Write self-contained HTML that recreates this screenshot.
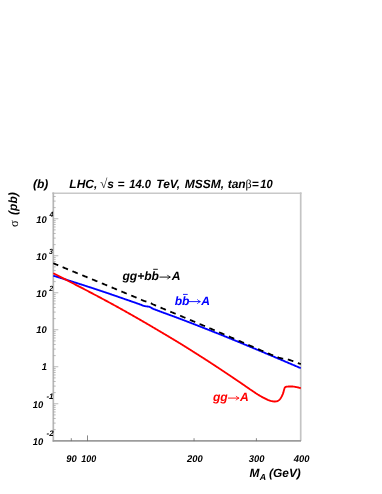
<!DOCTYPE html><html><head><meta charset="utf-8"><title>chart</title>
<style>html,body{margin:0;padding:0;background:#fff}svg{display:block;will-change:transform}text{font-family:"Liberation Sans",sans-serif;font-weight:bold;font-style:italic;text-rendering:geometricPrecision}.sym{font-family:"Liberation Serif",serif;font-weight:normal;font-style:normal}</style></head><body>
<svg width="382" height="494" viewBox="0 0 382 494">
<rect width="382" height="494" fill="#fff"/>
<g fill="none" stroke-linecap="butt">
<path d="M52.3 193.2H301.5" stroke="#c8c8c8" stroke-width="1.6"/>
<path d="M300.7 192.4V441.0" stroke="#c4c4c4" stroke-width="1.7"/>
<path d="M53.3 192.4V441.7" stroke="#b6b6b6" stroke-width="1.7"/>
<path d="M52.7 440.8H301.0" stroke="#9c9c9c" stroke-width="1.8"/>
<path d="M53.2 429.61H55.7 M53.2 423.10H55.7 M53.2 418.47H55.7 M53.2 414.89H55.7 M53.2 411.96H55.7 M53.2 409.48H55.7 M53.2 407.34H55.7 M53.2 405.44H55.7 M53.2 403.75H58.3 M53.2 392.61H55.7 M53.2 386.10H55.7 M53.2 381.47H55.7 M53.2 377.89H55.7 M53.2 374.96H55.7 M53.2 372.48H55.7 M53.2 370.34H55.7 M53.2 368.44H55.7 M53.2 366.75H58.3 M53.2 355.61H55.7 M53.2 349.10H55.7 M53.2 344.47H55.7 M53.2 340.89H55.7 M53.2 337.96H55.7 M53.2 335.48H55.7 M53.2 333.34H55.7 M53.2 331.44H55.7 M53.2 329.75H58.3 M53.2 318.61H55.7 M53.2 312.10H55.7 M53.2 307.47H55.7 M53.2 303.89H55.7 M53.2 300.96H55.7 M53.2 298.48H55.7 M53.2 296.34H55.7 M53.2 294.44H55.7 M53.2 292.75H58.3 M53.2 281.61H55.7 M53.2 275.10H55.7 M53.2 270.47H55.7 M53.2 266.89H55.7 M53.2 263.96H55.7 M53.2 261.48H55.7 M53.2 259.34H55.7 M53.2 257.44H55.7 M53.2 255.75H58.3 M53.2 244.61H55.7 M53.2 238.10H55.7 M53.2 233.47H55.7 M53.2 229.89H55.7 M53.2 226.96H55.7 M53.2 224.48H55.7 M53.2 222.34H55.7 M53.2 220.44H55.7 M53.2 218.75H58.3 M53.2 207.61H55.7 M53.2 201.10H55.7 M53.2 196.47H55.7" stroke="#a8a8a8" stroke-width="0.8"/>
<path d="M71.30 441.1v-2.9 M87.50 441.1v-5.7 M194.06 441.1v-2.9 M256.40 441.1v-2.9" stroke="#6a6a6a" stroke-width="0.8"/>
</g>
<g fill="none" stroke-linejoin="round">
<path d="M53.30 275.70 L53.80 275.85 L54.30 276.01 L54.80 276.16 L55.30 276.32 L55.80 276.47 L56.30 276.62 L56.80 276.78 L57.30 276.93 L57.80 277.09 L58.30 277.24 L58.80 277.40 L59.30 277.55 L59.80 277.71 L60.30 277.86 L60.80 278.02 L61.30 278.17 L61.80 278.33 L62.30 278.48 L62.80 278.64 L63.30 278.80 L63.80 278.95 L64.30 279.11 L64.80 279.26 L65.30 279.42 L65.80 279.58 L66.30 279.74 L66.80 279.89 L67.30 280.05 L67.80 280.21 L68.30 280.37 L68.80 280.53 L69.30 280.68 L69.80 280.84 L70.30 281.00 L70.80 281.16 L71.30 281.32 L71.80 281.48 L72.30 281.63 L72.80 281.79 L73.30 281.95 L73.80 282.11 L74.30 282.27 L74.80 282.43 L75.30 282.59 L75.80 282.75 L76.30 282.90 L76.80 283.06 L77.30 283.22 L77.80 283.38 L78.30 283.54 L78.80 283.70 L79.30 283.86 L79.80 284.02 L80.30 284.18 L80.80 284.34 L81.30 284.50 L81.80 284.66 L82.30 284.82 L82.80 284.98 L83.30 285.14 L83.80 285.30 L84.30 285.47 L84.80 285.63 L85.30 285.79 L85.80 285.95 L86.30 286.11 L86.80 286.27 L87.30 286.43 L87.80 286.60 L88.30 286.76 L88.80 286.92 L89.30 287.08 L89.80 287.25 L90.30 287.41 L90.80 287.57 L91.30 287.73 L91.80 287.90 L92.30 288.06 L92.80 288.22 L93.30 288.39 L93.80 288.55 L94.30 288.72 L94.80 288.88 L95.30 289.04 L95.80 289.21 L96.30 289.37 L96.80 289.54 L97.30 289.70 L97.80 289.87 L98.30 290.04 L98.80 290.20 L99.30 290.37 L99.80 290.53 L100.30 290.70 L100.80 290.87 L101.30 291.03 L101.80 291.20 L102.30 291.37 L102.80 291.54 L103.30 291.70 L103.80 291.87 L104.30 292.04 L104.80 292.21 L105.30 292.38 L105.80 292.55 L106.30 292.72 L106.80 292.89 L107.30 293.06 L107.80 293.23 L108.30 293.40 L108.80 293.57 L109.30 293.74 L109.80 293.91 L110.30 294.08 L110.80 294.25 L111.30 294.42 L111.80 294.59 L112.30 294.77 L112.80 294.94 L113.30 295.11 L113.80 295.28 L114.30 295.45 L114.80 295.63 L115.30 295.80 L115.80 295.97 L116.30 296.14 L116.80 296.32 L117.30 296.49 L117.80 296.66 L118.30 296.84 L118.80 297.01 L119.30 297.18 L119.80 297.36 L120.30 297.53 L120.80 297.70 L121.30 297.88 L121.80 298.05 L122.30 298.22 L122.80 298.40 L123.30 298.57 L123.80 298.75 L124.30 298.92 L124.80 299.09 L125.30 299.27 L125.80 299.44 L126.30 299.61 L126.80 299.79 L127.30 299.96 L127.80 300.14 L128.30 300.31 L128.80 300.48 L129.30 300.66 L129.80 300.83 L130.30 301.00 L130.80 301.18 L131.30 301.35 L131.80 301.52 L132.30 301.70 L132.80 301.87 L133.30 302.04 L133.80 302.21 L134.30 302.39 L134.80 302.56 L135.30 302.74 L135.80 302.91 L136.30 303.08 L136.80 303.26 L137.30 303.44 L137.80 303.61 L138.30 303.79 L138.80 303.97 L139.30 304.15 L139.80 304.33 L140.30 304.51 L140.80 304.71 L141.30 304.91 L141.80 305.12 L142.30 305.33 L142.80 305.53 L143.30 305.71 L143.80 305.87 L144.30 306.00 L144.80 306.11 L145.30 306.21 L145.80 306.30 L146.30 306.37 L146.80 306.43 L147.30 306.48 L147.80 306.52 L148.30 306.56 L148.80 306.62 L149.30 306.73 L149.80 306.94 L150.30 307.22 L150.80 307.50 L151.30 307.79 L151.80 308.11 L152.30 308.43 L152.80 308.70 L153.30 308.92 L153.80 309.11 L154.30 309.29 L154.80 309.48 L155.30 309.66 L155.80 309.85 L156.30 310.04 L156.80 310.23 L157.30 310.42 L157.80 310.61 L158.30 310.79 L158.80 310.98 L159.30 311.17 L159.80 311.35 L160.30 311.54 L160.80 311.72 L161.30 311.91 L161.80 312.09 L162.30 312.28 L162.80 312.46 L163.30 312.65 L163.80 312.83 L164.30 313.01 L164.80 313.20 L165.30 313.38 L165.80 313.56 L166.30 313.74 L166.80 313.93 L167.30 314.11 L167.80 314.29 L168.30 314.48 L168.80 314.66 L169.30 314.84 L169.80 315.02 L170.30 315.21 L170.80 315.39 L171.30 315.57 L171.80 315.76 L172.30 315.94 L172.80 316.12 L173.30 316.31 L173.80 316.49 L174.30 316.68 L174.80 316.86 L175.30 317.04 L175.80 317.23 L176.30 317.42 L176.80 317.60 L177.30 317.79 L177.80 317.97 L178.30 318.16 L178.80 318.35 L179.30 318.54 L179.80 318.72 L180.30 318.91 L180.80 319.10 L181.30 319.29 L181.80 319.48 L182.30 319.67 L182.80 319.86 L183.30 320.05 L183.80 320.24 L184.30 320.43 L184.80 320.62 L185.30 320.81 L185.80 321.01 L186.30 321.20 L186.80 321.39 L187.30 321.58 L187.80 321.77 L188.30 321.96 L188.80 322.16 L189.30 322.35 L189.80 322.54 L190.30 322.73 L190.80 322.93 L191.30 323.12 L191.80 323.31 L192.30 323.51 L192.80 323.70 L193.30 323.89 L193.80 324.09 L194.30 324.28 L194.80 324.48 L195.30 324.67 L195.80 324.86 L196.30 325.06 L196.80 325.25 L197.30 325.45 L197.80 325.64 L198.30 325.84 L198.80 326.03 L199.30 326.23 L199.80 326.42 L200.30 326.62 L200.80 326.81 L201.30 327.01 L201.80 327.20 L202.30 327.40 L202.80 327.59 L203.30 327.79 L203.80 327.99 L204.30 328.18 L204.80 328.38 L205.30 328.57 L205.80 328.77 L206.30 328.97 L206.80 329.16 L207.30 329.36 L207.80 329.55 L208.30 329.75 L208.80 329.95 L209.30 330.14 L209.80 330.34 L210.30 330.54 L210.80 330.74 L211.30 330.93 L211.80 331.13 L212.30 331.33 L212.80 331.53 L213.30 331.72 L213.80 331.92 L214.30 332.12 L214.80 332.32 L215.30 332.52 L215.80 332.72 L216.30 332.91 L216.80 333.11 L217.30 333.31 L217.80 333.51 L218.30 333.71 L218.80 333.91 L219.30 334.11 L219.80 334.31 L220.30 334.51 L220.80 334.71 L221.30 334.91 L221.80 335.11 L222.30 335.31 L222.80 335.51 L223.30 335.71 L223.80 335.92 L224.30 336.12 L224.80 336.32 L225.30 336.52 L225.80 336.72 L226.30 336.93 L226.80 337.13 L227.30 337.33 L227.80 337.53 L228.30 337.74 L228.80 337.94 L229.30 338.15 L229.80 338.35 L230.30 338.55 L230.80 338.76 L231.30 338.96 L231.80 339.17 L232.30 339.37 L232.80 339.58 L233.30 339.78 L233.80 339.99 L234.30 340.19 L234.80 340.40 L235.30 340.60 L235.80 340.81 L236.30 341.02 L236.80 341.22 L237.30 341.43 L237.80 341.64 L238.30 341.84 L238.80 342.05 L239.30 342.26 L239.80 342.46 L240.30 342.67 L240.80 342.88 L241.30 343.08 L241.80 343.29 L242.30 343.50 L242.80 343.71 L243.30 343.91 L243.80 344.12 L244.30 344.33 L244.80 344.54 L245.30 344.75 L245.80 344.95 L246.30 345.16 L246.80 345.37 L247.30 345.58 L247.80 345.78 L248.30 345.99 L248.80 346.20 L249.30 346.41 L249.80 346.62 L250.30 346.82 L250.80 347.03 L251.30 347.24 L251.80 347.45 L252.30 347.66 L252.80 347.87 L253.30 348.07 L253.80 348.28 L254.30 348.49 L254.80 348.70 L255.30 348.91 L255.80 349.12 L256.30 349.33 L256.80 349.54 L257.30 349.75 L257.80 349.96 L258.30 350.17 L258.80 350.37 L259.30 350.58 L259.80 350.79 L260.30 351.00 L260.80 351.21 L261.30 351.42 L261.80 351.63 L262.30 351.84 L262.80 352.05 L263.30 352.26 L263.80 352.47 L264.30 352.68 L264.80 352.89 L265.30 353.11 L265.80 353.32 L266.30 353.53 L266.80 353.74 L267.30 353.95 L267.80 354.16 L268.30 354.37 L268.80 354.58 L269.30 354.79 L269.80 355.00 L270.30 355.21 L270.80 355.42 L271.30 355.64 L271.80 355.85 L272.30 356.06 L272.80 356.27 L273.30 356.48 L273.80 356.69 L274.30 356.90 L274.80 357.12 L275.30 357.33 L275.80 357.54 L276.30 357.75 L276.80 357.96 L277.30 358.17 L277.80 358.39 L278.30 358.60 L278.80 358.81 L279.30 359.02 L279.80 359.23 L280.30 359.45 L280.80 359.66 L281.30 359.87 L281.80 360.08 L282.30 360.30 L282.80 360.51 L283.30 360.72 L283.80 360.93 L284.30 361.15 L284.80 361.36 L285.30 361.57 L285.80 361.78 L286.30 362.00 L286.80 362.21 L287.30 362.42 L287.80 362.64 L288.30 362.85 L288.80 363.06 L289.30 363.28 L289.80 363.49 L290.30 363.70 L290.80 363.92 L291.30 364.13 L291.80 364.34 L292.30 364.56 L292.80 364.77 L293.30 364.99 L293.80 365.20 L294.30 365.41 L294.80 365.63 L295.30 365.84 L295.80 366.06 L296.30 366.27 L296.80 366.48 L297.30 366.70 L297.80 366.91 L298.30 367.13 L298.80 367.34 L299.30 367.56 L299.80 367.77 L300.30 367.99 L300.80 368.20" stroke="#0000ff" stroke-width="1.85"/>
<path d="M53.30 273.20 L53.80 273.46 L54.30 273.72 L54.80 273.98 L55.30 274.24 L55.80 274.50 L56.30 274.76 L56.80 275.02 L57.30 275.28 L57.80 275.54 L58.30 275.80 L58.80 276.06 L59.30 276.32 L59.80 276.58 L60.30 276.84 L60.80 277.09 L61.30 277.35 L61.80 277.61 L62.30 277.87 L62.80 278.13 L63.30 278.39 L63.80 278.65 L64.30 278.91 L64.80 279.16 L65.30 279.42 L65.80 279.68 L66.30 279.94 L66.80 280.20 L67.30 280.45 L67.80 280.71 L68.30 280.97 L68.80 281.23 L69.30 281.48 L69.80 281.74 L70.30 282.00 L70.80 282.25 L71.30 282.51 L71.80 282.76 L72.30 283.02 L72.80 283.27 L73.30 283.53 L73.80 283.78 L74.30 284.04 L74.80 284.30 L75.30 284.55 L75.80 284.81 L76.30 285.06 L76.80 285.32 L77.30 285.57 L77.80 285.83 L78.30 286.09 L78.80 286.34 L79.30 286.60 L79.80 286.86 L80.30 287.12 L80.80 287.38 L81.30 287.64 L81.80 287.90 L82.30 288.16 L82.80 288.42 L83.30 288.68 L83.80 288.94 L84.30 289.20 L84.80 289.46 L85.30 289.72 L85.80 289.98 L86.30 290.25 L86.80 290.51 L87.30 290.77 L87.80 291.03 L88.30 291.30 L88.80 291.56 L89.30 291.82 L89.80 292.09 L90.30 292.35 L90.80 292.61 L91.30 292.88 L91.80 293.14 L92.30 293.41 L92.80 293.67 L93.30 293.94 L93.80 294.20 L94.30 294.47 L94.80 294.73 L95.30 295.00 L95.80 295.26 L96.30 295.53 L96.80 295.79 L97.30 296.06 L97.80 296.33 L98.30 296.59 L98.80 296.86 L99.30 297.13 L99.80 297.39 L100.30 297.66 L100.80 297.93 L101.30 298.19 L101.80 298.46 L102.30 298.73 L102.80 299.00 L103.30 299.26 L103.80 299.53 L104.30 299.80 L104.80 300.07 L105.30 300.34 L105.80 300.61 L106.30 300.87 L106.80 301.14 L107.30 301.41 L107.80 301.68 L108.30 301.95 L108.80 302.22 L109.30 302.49 L109.80 302.76 L110.30 303.03 L110.80 303.31 L111.30 303.58 L111.80 303.85 L112.30 304.12 L112.80 304.39 L113.30 304.67 L113.80 304.94 L114.30 305.22 L114.80 305.49 L115.30 305.77 L115.80 306.04 L116.30 306.32 L116.80 306.59 L117.30 306.87 L117.80 307.15 L118.30 307.42 L118.80 307.70 L119.30 307.98 L119.80 308.26 L120.30 308.54 L120.80 308.82 L121.30 309.10 L121.80 309.38 L122.30 309.66 L122.80 309.94 L123.30 310.22 L123.80 310.50 L124.30 310.78 L124.80 311.06 L125.30 311.34 L125.80 311.63 L126.30 311.91 L126.80 312.19 L127.30 312.47 L127.80 312.75 L128.30 313.04 L128.80 313.32 L129.30 313.60 L129.80 313.89 L130.30 314.17 L130.80 314.45 L131.30 314.74 L131.80 315.02 L132.30 315.31 L132.80 315.59 L133.30 315.87 L133.80 316.16 L134.30 316.44 L134.80 316.73 L135.30 317.01 L135.80 317.30 L136.30 317.59 L136.80 317.87 L137.30 318.16 L137.80 318.44 L138.30 318.73 L138.80 319.02 L139.30 319.31 L139.80 319.59 L140.30 319.88 L140.80 320.17 L141.30 320.46 L141.80 320.75 L142.30 321.04 L142.80 321.32 L143.30 321.61 L143.80 321.90 L144.30 322.19 L144.80 322.48 L145.30 322.77 L145.80 323.07 L146.30 323.36 L146.80 323.65 L147.30 323.94 L147.80 324.23 L148.30 324.52 L148.80 324.82 L149.30 325.11 L149.80 325.40 L150.30 325.70 L150.80 325.99 L151.30 326.28 L151.80 326.58 L152.30 326.87 L152.80 327.17 L153.30 327.46 L153.80 327.76 L154.30 328.05 L154.80 328.35 L155.30 328.64 L155.80 328.94 L156.30 329.23 L156.80 329.53 L157.30 329.83 L157.80 330.12 L158.30 330.42 L158.80 330.71 L159.30 331.01 L159.80 331.31 L160.30 331.61 L160.80 331.90 L161.30 332.20 L161.80 332.50 L162.30 332.79 L162.80 333.09 L163.30 333.39 L163.80 333.69 L164.30 333.98 L164.80 334.28 L165.30 334.58 L165.80 334.88 L166.30 335.17 L166.80 335.47 L167.30 335.77 L167.80 336.07 L168.30 336.36 L168.80 336.66 L169.30 336.96 L169.80 337.26 L170.30 337.55 L170.80 337.85 L171.30 338.15 L171.80 338.45 L172.30 338.75 L172.80 339.05 L173.30 339.35 L173.80 339.64 L174.30 339.94 L174.80 340.25 L175.30 340.55 L175.80 340.85 L176.30 341.15 L176.80 341.45 L177.30 341.75 L177.80 342.06 L178.30 342.36 L178.80 342.67 L179.30 342.97 L179.80 343.28 L180.30 343.58 L180.80 343.89 L181.30 344.20 L181.80 344.51 L182.30 344.82 L182.80 345.13 L183.30 345.44 L183.80 345.75 L184.30 346.06 L184.80 346.37 L185.30 346.68 L185.80 347.00 L186.30 347.31 L186.80 347.62 L187.30 347.94 L187.80 348.25 L188.30 348.57 L188.80 348.88 L189.30 349.20 L189.80 349.51 L190.30 349.83 L190.80 350.14 L191.30 350.46 L191.80 350.77 L192.30 351.09 L192.80 351.41 L193.30 351.72 L193.80 352.04 L194.30 352.36 L194.80 352.67 L195.30 352.99 L195.80 353.31 L196.30 353.62 L196.80 353.94 L197.30 354.26 L197.80 354.58 L198.30 354.89 L198.80 355.21 L199.30 355.53 L199.80 355.85 L200.30 356.17 L200.80 356.48 L201.30 356.80 L201.80 357.12 L202.30 357.44 L202.80 357.76 L203.30 358.08 L203.80 358.40 L204.30 358.72 L204.80 359.04 L205.30 359.36 L205.80 359.68 L206.30 360.01 L206.80 360.33 L207.30 360.65 L207.80 360.97 L208.30 361.30 L208.80 361.62 L209.30 361.95 L209.80 362.27 L210.30 362.60 L210.80 362.92 L211.30 363.25 L211.80 363.57 L212.30 363.90 L212.80 364.23 L213.30 364.55 L213.80 364.88 L214.30 365.21 L214.80 365.54 L215.30 365.87 L215.80 366.20 L216.30 366.53 L216.80 366.86 L217.30 367.19 L217.80 367.52 L218.30 367.85 L218.80 368.18 L219.30 368.51 L219.80 368.84 L220.30 369.17 L220.80 369.51 L221.30 369.84 L221.80 370.17 L222.30 370.50 L222.80 370.83 L223.30 371.17 L223.80 371.50 L224.30 371.83 L224.80 372.17 L225.30 372.50 L225.80 372.83 L226.30 373.17 L226.80 373.50 L227.30 373.84 L227.80 374.17 L228.30 374.50 L228.80 374.84 L229.30 375.17 L229.80 375.51 L230.30 375.85 L230.80 376.18 L231.30 376.52 L231.80 376.85 L232.30 377.19 L232.80 377.53 L233.30 377.86 L233.80 378.20 L234.30 378.54 L234.80 378.88 L235.30 379.21 L235.80 379.55 L236.30 379.89 L236.80 380.23 L237.30 380.57 L237.80 380.91 L238.30 381.25 L238.80 381.58 L239.30 381.92 L239.80 382.26 L240.30 382.60 L240.80 382.95 L241.30 383.29 L241.80 383.63 L242.30 383.97 L242.80 384.32 L243.30 384.66 L243.80 385.01 L244.30 385.35 L244.80 385.70 L245.30 386.05 L245.80 386.39 L246.30 386.74 L246.80 387.08 L247.30 387.43 L247.80 387.77 L248.30 388.12 L248.80 388.46 L249.30 388.80 L249.80 389.14 L250.30 389.49 L250.80 389.82 L251.30 390.16 L251.80 390.50 L252.30 390.84 L252.80 391.18 L253.30 391.51 L253.80 391.85 L254.30 392.19 L254.80 392.53 L255.30 392.86 L255.80 393.20 L256.30 393.52 L256.80 393.85 L257.30 394.16 L257.80 394.48 L258.30 394.78 L258.80 395.09 L259.30 395.39 L259.80 395.69 L260.30 395.98 L260.80 396.27 L261.30 396.56 L261.80 396.84 L262.30 397.11 L262.80 397.38 L263.30 397.65 L263.80 397.90 L264.30 398.16 L264.80 398.42 L265.30 398.67 L265.80 398.92 L266.30 399.17 L266.80 399.41 L267.30 399.64 L267.80 399.86 L268.30 400.06 L268.80 400.26 L269.30 400.43 L269.80 400.60 L270.30 400.77 L270.80 400.92 L271.30 401.05 L271.80 401.16 L272.30 401.25 L272.80 401.34 L273.30 401.42 L273.80 401.47 L274.30 401.50 L274.80 401.49 L275.30 401.46 L275.80 401.41 L276.30 401.34 L276.80 401.26 L277.30 401.10 L277.80 400.87 L278.30 400.58 L278.80 400.27 L279.30 399.84 L279.80 399.33 L280.30 398.72 L280.80 397.97 L281.30 397.13 L281.80 396.23 L282.30 395.25 L282.80 394.11 L283.30 392.67 L283.80 390.81 L284.30 389.07 L284.80 387.55 L285.30 387.06 L285.80 386.82 L286.30 386.72 L286.80 386.64 L287.30 386.59 L287.80 386.56 L288.30 386.54 L288.80 386.53 L289.30 386.52 L289.80 386.52 L290.30 386.51 L290.80 386.51 L291.30 386.50 L291.80 386.50 L292.30 386.50 L292.80 386.52 L293.30 386.56 L293.80 386.63 L294.30 386.70 L294.80 386.79 L295.30 386.89 L295.80 386.99 L296.30 387.08 L296.80 387.18 L297.30 387.28 L297.80 387.40 L298.30 387.52 L298.80 387.65 L299.30 387.79 L299.80 387.94 L300.30 388.09 L300.80 388.25" stroke="#ff0000" stroke-width="1.85"/>
<path d="M53.30 263.26 L53.80 263.47 L54.30 263.69 L54.80 263.90 L55.30 264.11 L55.80 264.32 L56.30 264.53 L56.80 264.74 L57.30 264.95 L57.80 265.16 L58.30 265.37 L58.80 265.57 L59.30 265.78 L59.80 265.99 L60.30 266.20 L60.80 266.41 L61.30 266.62 L61.80 266.83 L62.30 267.04 L62.80 267.24 L63.30 267.45 L63.80 267.66 L64.30 267.87 L64.80 268.08 L65.30 268.28 L65.80 268.49 L66.30 268.70 L66.80 268.91 L67.30 269.11 L67.80 269.32 L68.30 269.53 L68.80 269.73 L69.30 269.94 L69.80 270.15 L70.30 270.35 L70.80 270.56 L71.30 270.76 L71.80 270.97 L72.30 271.17 L72.80 271.38 L73.30 271.58 L73.80 271.79 L74.30 271.99 L74.80 272.20 L75.30 272.40 L75.80 272.60 L76.30 272.81 L76.80 273.01 L77.30 273.22 L77.80 273.42 L78.30 273.63 L78.80 273.83 L79.30 274.04 L79.80 274.24 L80.30 274.45 L80.80 274.65 L81.30 274.85 L81.80 275.06 L82.30 275.27 L82.80 275.47 L83.30 275.68 L83.80 275.88 L84.30 276.09 L84.80 276.29 L85.30 276.50 L85.80 276.70 L86.30 276.91 L86.80 277.11 L87.30 277.32 L87.80 277.52 L88.30 277.73 L88.80 277.94 L89.30 278.14 L89.80 278.35 L90.30 278.55 L90.80 278.76 L91.30 278.96 L91.80 279.17 L92.30 279.37 L92.80 279.58 L93.30 279.79 L93.80 279.99 L94.30 280.20 L94.80 280.40 L95.30 280.61 L95.80 280.81 L96.30 281.02 L96.80 281.23 L97.30 281.43 L97.80 281.64 L98.30 281.84 L98.80 282.05 L99.30 282.26 L99.80 282.46 L100.30 282.67 L100.80 282.87 L101.30 283.08 L101.80 283.29 L102.30 283.49 L102.80 283.70 L103.30 283.91 L103.80 284.11 L104.30 284.32 L104.80 284.53 L105.30 284.73 L105.80 284.94 L106.30 285.15 L106.80 285.35 L107.30 285.56 L107.80 285.77 L108.30 285.97 L108.80 286.18 L109.30 286.39 L109.80 286.60 L110.30 286.80 L110.80 287.01 L111.30 287.22 L111.80 287.43 L112.30 287.63 L112.80 287.84 L113.30 288.05 L113.80 288.26 L114.30 288.47 L114.80 288.68 L115.30 288.88 L115.80 289.09 L116.30 289.30 L116.80 289.51 L117.30 289.72 L117.80 289.93 L118.30 290.14 L118.80 290.34 L119.30 290.55 L119.80 290.76 L120.30 290.97 L120.80 291.18 L121.30 291.39 L121.80 291.60 L122.30 291.81 L122.80 292.02 L123.30 292.22 L123.80 292.43 L124.30 292.64 L124.80 292.85 L125.30 293.06 L125.80 293.27 L126.30 293.47 L126.80 293.68 L127.30 293.89 L127.80 294.10 L128.30 294.31 L128.80 294.51 L129.30 294.72 L129.80 294.93 L130.30 295.14 L130.80 295.34 L131.30 295.55 L131.80 295.76 L132.30 295.96 L132.80 296.17 L133.30 296.38 L133.80 296.58 L134.30 296.79 L134.80 296.99 L135.30 297.20 L135.80 297.41 L136.30 297.61 L136.80 297.82 L137.30 298.03 L137.80 298.24 L138.30 298.45 L138.80 298.65 L139.30 298.86 L139.80 299.07 L140.30 299.29 L140.80 299.51 L141.30 299.74 L141.80 299.97 L142.30 300.20 L142.80 300.42 L143.30 300.63 L143.80 300.82 L144.30 301.00 L144.80 301.16 L145.30 301.31 L145.80 301.45 L146.30 301.58 L146.80 301.70 L147.30 301.81 L147.80 301.91 L148.30 302.01 L148.80 302.13 L149.30 302.28 L149.80 302.52 L150.30 302.80 L150.80 303.08 L151.30 303.37 L151.80 303.69 L152.30 304.00 L152.80 304.28 L153.30 304.51 L153.80 304.73 L154.30 304.94 L154.80 305.15 L155.30 305.36 L155.80 305.58 L156.30 305.79 L156.80 306.00 L157.30 306.22 L157.80 306.43 L158.30 306.64 L158.80 306.85 L159.30 307.06 L159.80 307.28 L160.30 307.49 L160.80 307.70 L161.30 307.91 L161.80 308.11 L162.30 308.32 L162.80 308.53 L163.30 308.74 L163.80 308.95 L164.30 309.16 L164.80 309.36 L165.30 309.57 L165.80 309.78 L166.30 309.99 L166.80 310.19 L167.30 310.40 L167.80 310.61 L168.30 310.81 L168.80 311.02 L169.30 311.22 L169.80 311.43 L170.30 311.64 L170.80 311.84 L171.30 312.05 L171.80 312.25 L172.30 312.46 L172.80 312.66 L173.30 312.87 L173.80 313.08 L174.30 313.28 L174.80 313.49 L175.30 313.70 L175.80 313.90 L176.30 314.11 L176.80 314.32 L177.30 314.53 L177.80 314.73 L178.30 314.94 L178.80 315.15 L179.30 315.36 L179.80 315.57 L180.30 315.78 L180.80 315.99 L181.30 316.20 L181.80 316.41 L182.30 316.62 L182.80 316.83 L183.30 317.04 L183.80 317.25 L184.30 317.46 L184.80 317.67 L185.30 317.89 L185.80 318.10 L186.30 318.31 L186.80 318.52 L187.30 318.73 L187.80 318.94 L188.30 319.16 L188.80 319.37 L189.30 319.58 L189.80 319.79 L190.30 320.00 L190.80 320.22 L191.30 320.43 L191.80 320.64 L192.30 320.85 L192.80 321.06 L193.30 321.28 L193.80 321.49 L194.30 321.70 L194.80 321.91 L195.30 322.12 L195.80 322.34 L196.30 322.55 L196.80 322.76 L197.30 322.97 L197.80 323.19 L198.30 323.40 L198.80 323.61 L199.30 323.82 L199.80 324.03 L200.30 324.25 L200.80 324.46 L201.30 324.67 L201.80 324.88 L202.30 325.09 L202.80 325.31 L203.30 325.52 L203.80 325.73 L204.30 325.94 L204.80 326.15 L205.30 326.37 L205.80 326.58 L206.30 326.79 L206.80 327.00 L207.30 327.22 L207.80 327.43 L208.30 327.64 L208.80 327.85 L209.30 328.06 L209.80 328.28 L210.30 328.49 L210.80 328.70 L211.30 328.91 L211.80 329.13 L212.30 329.34 L212.80 329.55 L213.30 329.77 L213.80 329.98 L214.30 330.19 L214.80 330.40 L215.30 330.62 L215.80 330.83 L216.30 331.04 L216.80 331.26 L217.30 331.47 L217.80 331.68 L218.30 331.90 L218.80 332.11 L219.30 332.32 L219.80 332.54 L220.30 332.75 L220.80 332.97 L221.30 333.18 L221.80 333.39 L222.30 333.61 L222.80 333.82 L223.30 334.04 L223.80 334.25 L224.30 334.46 L224.80 334.68 L225.30 334.89 L225.80 335.11 L226.30 335.32 L226.80 335.54 L227.30 335.75 L227.80 335.97 L228.30 336.18 L228.80 336.40 L229.30 336.62 L229.80 336.83 L230.30 337.05 L230.80 337.26 L231.30 337.48 L231.80 337.70 L232.30 337.91 L232.80 338.13 L233.30 338.35 L233.80 338.56 L234.30 338.78 L234.80 339.00 L235.30 339.21 L235.80 339.43 L236.30 339.65 L236.80 339.86 L237.30 340.08 L237.80 340.30 L238.30 340.52 L238.80 340.73 L239.30 340.95 L239.80 341.17 L240.30 341.38 L240.80 341.60 L241.30 341.82 L241.80 342.04 L242.30 342.25 L242.80 342.47 L243.30 342.69 L243.80 342.91 L244.30 343.13 L244.80 343.34 L245.30 343.56 L245.80 343.78 L246.30 344.00 L246.80 344.21 L247.30 344.43 L247.80 344.65 L248.30 344.87 L248.80 345.08 L249.30 345.30 L249.80 345.52 L250.30 345.73 L250.80 345.95 L251.30 346.17 L251.80 346.38 L252.30 346.60 L252.80 346.82 L253.30 347.03 L253.80 347.25 L254.30 347.47 L254.80 347.68 L255.30 347.90 L255.80 348.12 L256.30 348.33 L256.80 348.55 L257.30 348.76 L257.80 348.98 L258.30 349.19 L258.80 349.41 L259.30 349.62 L259.80 349.84 L260.30 350.05 L260.80 350.27 L261.30 350.48 L261.80 350.70 L262.30 350.91 L262.80 351.12 L263.30 351.34 L263.80 351.55 L264.30 351.76 L264.80 351.98 L265.30 352.19 L265.80 352.40 L266.30 352.61 L266.80 352.83 L267.30 353.04 L267.80 353.25 L268.30 353.46 L268.80 353.67 L269.30 353.88 L269.80 354.09 L270.30 354.30 L270.80 354.50 L271.30 354.71 L271.80 354.92 L272.30 355.12 L272.80 355.33 L273.30 355.53 L273.80 355.73 L274.30 355.93 L274.80 356.13 L275.30 356.33 L275.80 356.52 L276.30 356.72 L276.80 356.91 L277.30 357.10 L277.80 357.28 L278.30 357.46 L278.80 357.64 L279.30 357.80 L279.80 357.96 L280.30 358.11 L280.80 358.24 L281.30 358.36 L281.80 358.47 L282.30 358.57 L282.80 358.64 L283.30 358.66 L283.80 358.61 L284.30 358.54 L284.80 358.48 L285.30 358.58 L285.80 358.71 L286.30 358.87 L286.80 359.03 L287.30 359.20 L287.80 359.37 L288.30 359.54 L288.80 359.71 L289.30 359.88 L289.80 360.05 L290.30 360.22 L290.80 360.39 L291.30 360.56 L291.80 360.73 L292.30 360.90 L292.80 361.08 L293.30 361.26 L293.80 361.44 L294.30 361.63 L294.80 361.81 L295.30 362.00 L295.80 362.19 L296.30 362.38 L296.80 362.57 L297.30 362.76 L297.80 362.95 L298.30 363.15 L298.80 363.34 L299.30 363.54 L299.80 363.74 L300.30 363.94 L300.80 364.14" stroke="#000" stroke-width="1.8" stroke-dasharray="5.8 4.8" stroke-dashoffset="0.5"/>
</g>
<text transform="translate(17.5 226.9) rotate(-90)" font-size="12.6" class="sym">σ</text>
<text transform="translate(17.3 214.9) rotate(-90)" font-size="12.0">(pb)</text>
<path d="M153.2 269.3H157.8" stroke="#000" stroke-width="0.9"/>
<path d="M159.5 277.1H169.9" stroke="#000" stroke-width="0.9" fill="none"/><path d="M167.4 274.90000000000003Q168.4 276.6 170.4 277.1Q168.4 277.6 167.4 279.3" stroke="#000" stroke-width="0.85" fill="none" stroke-linejoin="miter"/>
<path d="M183.0 294.4H187.7" stroke="#0000ff" stroke-width="0.9"/>
<path d="M188.8 301.6H199.9" stroke="#0000ff" stroke-width="0.9" fill="none"/><path d="M197.4 299.40000000000003Q198.4 301.1 200.4 301.6Q198.4 302.1 197.4 303.8" stroke="#0000ff" stroke-width="0.85" fill="none" stroke-linejoin="miter"/>
<path d="M228.0 398.1H238.6" stroke="#ff0000" stroke-width="0.9" fill="none"/><path d="M236.1 395.90000000000003Q237.1 397.6 239.1 398.1Q237.1 398.6 236.1 400.3" stroke="#ff0000" stroke-width="0.85" fill="none" stroke-linejoin="miter"/>
<text x="33.02" y="187.7" font-size="12.0">(b)</text>
<text x="69.35" y="187.7" font-size="12.0">LHC,</text>
<text x="99.92" y="187.5" font-size="13.4" class="sym" fill="#222">√</text>
<text x="107.28" y="187.7" font-size="12.0">s</text>
<text x="117.45" y="187.7" font-size="12.0">=</text>
<text transform="translate(129.27 187.7) scale(0.935 1)" font-size="12.0">14.0</text>
<text x="156.32" y="187.7" font-size="12.0">TeV,</text>
<text x="184.65" y="187.7" font-size="12.0">MSSM,</text>
<text x="227.70" y="187.7" font-size="12.0">tan</text>
<text x="245.55" y="187.7" font-size="12.0" class="sym">β</text>
<text x="251.75" y="187.7" font-size="12.0">=</text>
<text transform="translate(260.37 187.7) scale(0.93 1)" font-size="12.0">10</text>
<text x="249.55" y="476.6" font-size="11.9">M</text>
<text x="259.82" y="480.3" font-size="8.8">A</text>
<text x="269.12" y="476.6" font-size="11.9">(GeV)</text>
<text transform="translate(66.16 462) scale(0.96 1)" font-size="9.8">90</text>
<text transform="translate(81.29 462) scale(0.915 1)" font-size="9.8">100</text>
<text transform="translate(186.92 462) scale(0.96 1)" font-size="9.8">200</text>
<text transform="translate(248.78 462) scale(0.96 1)" font-size="9.8">300</text>
<text transform="translate(293.72 462) scale(0.96 1)" font-size="9.8">400</text>
<text transform="translate(36.18 222.9) scale(0.96 1)" font-size="9.8">10</text>
<text transform="translate(49.41 216.7) scale(0.9 1)" font-size="7.6">4</text>
<text transform="translate(36.18 259.9) scale(0.96 1)" font-size="9.8">10</text>
<text transform="translate(49.10 253.9) scale(0.9 1)" font-size="7.6">3</text>
<text transform="translate(36.18 296.9) scale(0.96 1)" font-size="9.8">10</text>
<text transform="translate(49.21 290.70000000000005) scale(0.9 1)" font-size="7.6">2</text>
<text transform="translate(36.18 333.2) scale(0.96 1)" font-size="9.8">10</text>
<text transform="translate(41.68 370.3) scale(0.96 1)" font-size="9.8">1</text>
<text transform="translate(32.68 407.6) scale(0.96 1)" font-size="9.8">10</text>
<text x="46.45" y="398.5" font-size="7.9">-1</text>
<text transform="translate(32.68 444.6) scale(0.96 1)" font-size="9.8">10</text>
<text x="46.60" y="435.6" font-size="7.9">-2</text>
<text x="122.40" y="280" font-size="12.1">gg+bb</text>
<text x="171.65" y="280" font-size="12.1">A</text>
<text x="174.65" y="305" font-size="12.1" fill="#0000ff">bb</text>
<text x="201.35" y="305" font-size="12.1" fill="#0000ff">A</text>
<text x="212.90" y="401" font-size="12.1" fill="#ff0000">gg</text>
<text x="240.05" y="401" font-size="12.1" fill="#ff0000">A</text>
</svg></body></html>
